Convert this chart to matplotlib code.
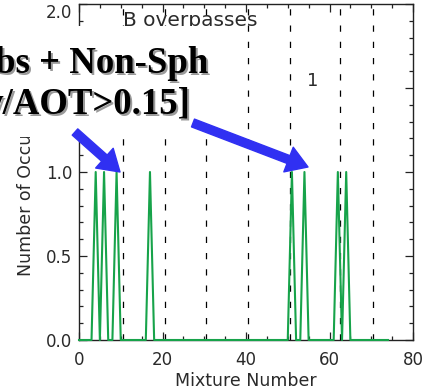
import numpy as np
import matplotlib
matplotlib.use("Agg")
import matplotlib.pyplot as plt
from matplotlib.patches import Rectangle, FancyArrowPatch
from matplotlib.ticker import MultipleLocator

# ---- data ----
mixture_numbers = list(range(0, 75))
peak_mixtures = [4, 6, 9, 17, 51, 54, 62, 64]
peak_counts = [1, 1, 1, 1, 1, 1, 1, 1]
occurrences = [0.0] * len(mixture_numbers)
for m, c in zip(peak_mixtures, peak_counts):
    occurrences[mixture_numbers.index(m)] = c
group_boundaries = [10.5, 20.5, 30.5, 40.5, 50.5, 62.5, 70.5]
x_ticks = [0, 20, 40, 60, 80]
y_ticks = [0.0, 0.5, 1.0, 1.5, 2.0]
title_text = "B overpasses"
corner_text = "1"
overlay_line1 = "bs + Non-Sph"
overlay_line2 = "w/AOT>0.15]"

W, H = 429, 392
fig = plt.figure(figsize=(W / 100, H / 100), dpi=100)
ax = fig.add_axes([79 / W, 1 - 340 / H, (413 - 79) / W, (340 - 4) / H])

txt_col = "#2a2a2a"
ax.plot(mixture_numbers, occurrences, color="#17a34a", lw=1.5, zorder=4,
        clip_on=False)
for b in group_boundaries:
    ax.axvline(b, color="black", lw=0.9, ls=(0, (5, 8)), zorder=2)

ax.set_xlim(0, 80)
ax.set_ylim(0, 2)
ax.set_xticks(x_ticks)
ax.set_yticks(y_ticks)
ax.set_xticklabels([str(v) for v in x_ticks])
ax.set_yticklabels([f"{v:.1f}" for v in y_ticks])
ax.xaxis.set_minor_locator(MultipleLocator(5))
ax.yaxis.set_minor_locator(MultipleLocator(0.1))
ax.tick_params(which="both", direction="in", top=True, right=True,
               labelsize=12, labelcolor=txt_col, color="#222222", width=0.9)
ax.tick_params(which="major", length=6)
ax.tick_params(which="minor", length=3)
ax.tick_params(axis="x", pad=8)
ax.tick_params(axis="y", pad=5)
ax.get_yticklabels()[-1].set_verticalalignment("top")
for s in ax.spines.values():
    s.set_linewidth(1.0)
    s.set_color("#222222")
ax.set_xlabel("Mixture Number", fontsize=12.5, color=txt_col, labelpad=2)
ax.set_ylabel("Number of Occurrences", fontsize=12.5, color=txt_col, labelpad=8)

ax.text(10.5, 1.96, title_text, fontsize=14.5, color=txt_col, va="top", ha="left")
ax.text(56, 1.54, corner_text, fontsize=13, color=txt_col, va="center", ha="center")

# white overlay box (slide annotation)
fig.patches.append(Rectangle((0, 1 - 137 / H), 235 / W, (137 - 26) / H,
                             transform=fig.transFigure, facecolor="white",
                             edgecolor="none", zorder=10))

def fpx(x, y):
    return (x / W, 1 - y / H)

serif = dict(family="Liberation Serif", fontweight="bold", fontsize=26.5)
for line, xr, yb in [(overlay_line1, 208, 73), (overlay_line2, 191, 113)]:
    fig.text(*fpx(xr + 2, yb + 2), line, color="#9a9a9a", ha="right",
             va="baseline", zorder=11, **serif)
    fig.text(*fpx(xr, yb), line, color="black", ha="right",
             va="baseline", zorder=12, **serif)

blue = "#3030f2"
style = "simple,head_width=1.9,head_length=1.5,tail_width=0.6"
for tail, tip in [((75, 132), (120, 172)), ((193, 123), (308, 167))]:
    fig.patches.append(FancyArrowPatch(
        (tail[0], H - tail[1]), (tip[0], H - tip[1]),
        arrowstyle=style, mutation_scale=10, color=blue,
        transform=None, shrinkA=0, shrinkB=0, zorder=13))

fig.savefig("out.png", dpi=100)
